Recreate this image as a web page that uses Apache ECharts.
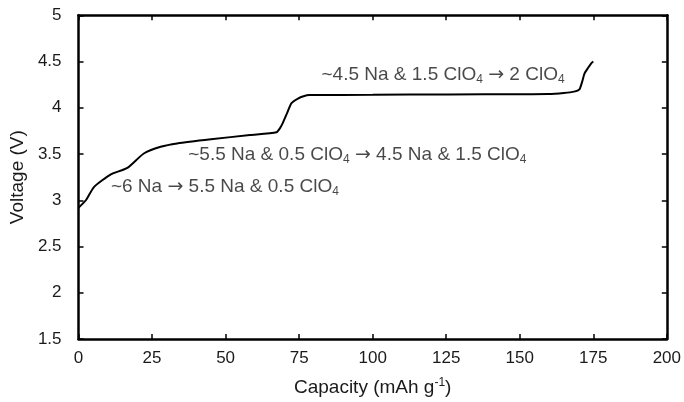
<!DOCTYPE html>
<html>
<head>
<meta charset="utf-8">
<script src="https://cdn.jsdelivr.net/npm/echarts@6/dist/echarts.min.js"></script>
<style>
html,body{margin:0;padding:0;background:#fff;}
#chart{width:684px;height:402px;}
</style>
</head>
<body>
<div id="chart"></div>
<script>
// Charge curve: capacity (mAh/g) vs voltage (V)
const capacity = [0, 2.5, 5.3, 11, 16.6, 22.2, 27.9, 33.5, 45, 58.3, 67.3, 68.5, 69.5, 71, 72.4, 74.6, 76.5, 78.5, 100, 125.8, 150, 159.6, 165, 168.5, 170.3, 171.2, 172, 173.2, 174.3, 175];
const voltage  = [2.92, 3.0, 3.145, 3.28, 3.35, 3.506, 3.578, 3.615, 3.66, 3.705, 3.735, 3.78, 3.84, 3.95, 4.05, 4.10, 4.125, 4.137, 4.14, 4.145, 4.146, 4.148, 4.16, 4.175, 4.2, 4.28, 4.37, 4.43, 4.48, 4.5];

const xTicks = { min: 0, max: 200, interval: 25 };
const yTicks = { min: 1.5, max: 5, interval: 0.5 };

// Reaction-step annotations: [capacity, voltage, rich text]
const stepLabels = [
  [82.6, 4.354, '~4.5 Na & 1.5 ClO{s|4} {a|→} 2 ClO{s|4}'],
  [37.3, 3.488, '~5.5 Na & 0.5 ClO{s|4} {a|→} 4.5 Na & 1.5 ClO{s|4}'],
  [11.0, 3.142, '~6 Na {a|→} 5.5 Na & 0.5 ClO{s|4}']
];

const tickFont = "'Liberation Sans', Arial, sans-serif";
const textFont = "'Liberation Sans', Arial, sans-serif";
const ink = '#1a1a1a';

const chart = echarts.init(document.getElementById('chart'));

const axisLine = { show: true, onZero: false, lineStyle: { color: '#000', width: 2.5 } };
const tick = { show: true, inside: true, length: 5, lineStyle: { color: '#000', width: 1.5 } };

chart.setOption({
  animation: false,
  backgroundColor: '#fff',
  grid: { left: 77.5, right: 14.5, top: 15.3, bottom: 63, containLabel: false },
  xAxis: [
    {
      type: 'value', min: xTicks.min, max: xTicks.max, interval: xTicks.interval,
      position: 'bottom',
      name: 'Capacity (mAh g{sup|-1})', nameLocation: 'middle', nameGap: 38,
      nameTextStyle: {
        fontFamily: textFont, fontSize: 19, color: ink,
        rich: { sup: { fontSize: 12, verticalAlign: 'top', padding: [0, 0, 9, 0], fontFamily: textFont, color: ink } }
      },
      axisLine: axisLine, axisTick: tick, splitLine: { show: false },
      axisLabel: { fontFamily: tickFont, fontSize: 17, color: ink, margin: 11 }
    },
    {
      type: 'value', min: xTicks.min, max: xTicks.max, interval: xTicks.interval,
      position: 'top', axisLine: axisLine, axisTick: tick, splitLine: { show: false },
      axisLabel: { show: false }
    }
  ],
  yAxis: [
    {
      type: 'value', min: yTicks.min, max: yTicks.max, interval: yTicks.interval,
      position: 'left',
      name: 'Voltage (V)', nameLocation: 'middle', nameGap: 49, nameRotate: 90,
      nameTextStyle: { fontFamily: textFont, fontSize: 19, color: ink },
      axisLine: axisLine, axisTick: tick, splitLine: { show: false },
      axisLabel: { fontFamily: tickFont, fontSize: 17, color: ink, margin: 17 }
    },
    {
      type: 'value', min: yTicks.min, max: yTicks.max, interval: yTicks.interval,
      position: 'right', axisLine: axisLine, axisTick: tick, splitLine: { show: false },
      axisLabel: { show: false }
    }
  ],
  series: [
    {
      type: 'line',
      data: capacity.map((c, i) => [c, voltage[i]]),
      showSymbol: false, smooth: 0.2,
      lineStyle: { color: '#000', width: 2 },
      silent: true
    },
    {
      type: 'scatter',
      data: stepLabels.map(s => [s[0], s[1], s[2]]),
      symbolSize: 0,
      silent: true,
      label: {
        show: true, position: 'right', distance: 0,
        formatter: p => p.data[2],
        fontFamily: textFont, fontSize: 19, color: ink,
        rich: {
          s: { fontFamily: textFont, fontSize: 12, color: ink, verticalAlign: 'bottom', padding: [10, 0, 0, 0] },
          a: { fontFamily: "'DejaVu Sans', sans-serif", fontSize: 19, color: ink }
        }
      }
    }
  ]
});
</script>
</body>
</html>
